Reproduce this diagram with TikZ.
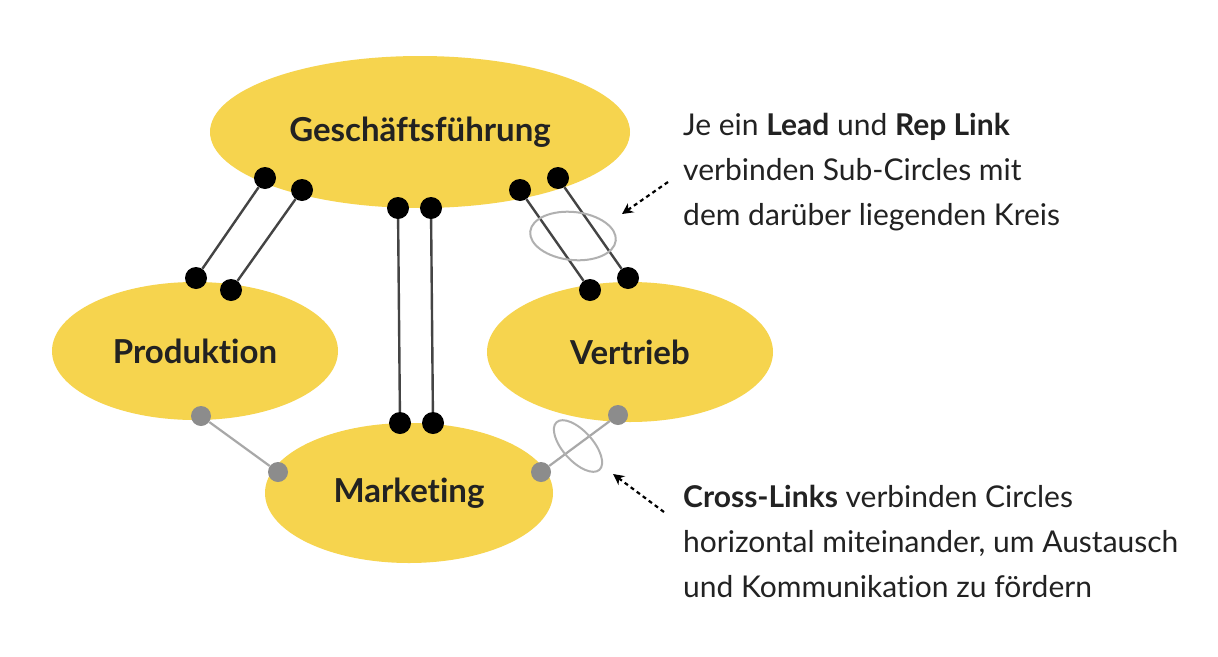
\documentclass[tikz,border=0pt]{standalone}
\usepackage{fontspec}
\setmainfont{Lato}[Ligatures=NoCommon]
\usetikzlibrary{shapes.geometric,arrows.meta}
\definecolor{gelb}{HTML}{F6D44E}
\definecolor{txt}{HTML}{222222}
\definecolor{dotgray}{HTML}{8C8C8C}
\definecolor{linegray}{HTML}{A8A8A8}
\definecolor{ringgray}{HTML}{B0B0B0}
\definecolor{linkblack}{HTML}{444444}
\tikzset{
  circ/.style={ellipse, fill=gelb, inner sep=0pt, text=txt, font=\fontsize{33}{36}\selectfont\bfseries},
  bdot/.style={circle, fill=black, minimum size=22pt, inner sep=0pt},
  gdot/.style={circle, fill=dotgray, minimum size=20pt, inner sep=0pt},
  blink/.style={draw=linkblack, line width=2.4pt},
  glink/.style={draw=linegray, line width=2.2pt},
  ring/.style={ellipse, draw=ringgray, line width=2pt, inner sep=0pt},
  hint/.style={draw=black, line width=2.2pt, dash pattern=on 4pt off 3.5pt, -{Stealth[length=11pt,width=11pt]}},
  note/.style={anchor=base west, align=left, inner sep=0pt, text=txt, font=\fontsize{30}{45}\selectfont}
}
\begin{document}
\begin{tikzpicture}[x=1pt,y=-1pt]
\useasboundingbox[fill=white] (0,0) rectangle (1218,656);
% circles
\node[circ, minimum width=420pt, minimum height=152pt] (gf) at (420,132) {Geschäftsführung};
\node[circ, minimum width=286pt, minimum height=138pt] (prod) at (195,351) {Produktion};
\node[circ, minimum width=286pt, minimum height=140pt] (vert) at (630,352) {Vertrieb};
\node[circ, minimum width=288pt, minimum height=140pt] (mkt) at (409,493) {Marketing};
% dots
\node[bdot] (g1) at (265,178) {};
\node[bdot] (g2) at (302,190) {};
\node[bdot] (p1) at (196,278) {};
\node[bdot] (p2) at (231,290) {};
\node[bdot] (g3) at (398,208) {};
\node[bdot] (g4) at (431,208) {};
\node[bdot] (m1) at (400,423) {};
\node[bdot] (m2) at (433,423) {};
\node[bdot] (g5) at (520,190) {};
\node[bdot] (g6) at (558,178) {};
\node[bdot] (v1) at (590,290) {};
\node[bdot] (v2) at (628,278) {};
\node[gdot] (p3) at (201,416) {};
\node[gdot] (m3) at (278,472) {};
\node[gdot] (m4) at (541,472) {};
\node[gdot] (v3) at (618,415) {};
% links
\draw[blink] (g1) -- (p1);
\draw[blink] (g2) -- (p2);
\draw[blink] (g3) -- (m1);
\draw[blink] (g4) -- (m2);
\draw[blink] (g5) -- (v1);
\draw[blink] (g6) -- (v2);
\draw[glink] (p3) -- (m3);
\draw[glink] (m4) -- (v3);
% rings
\node[ring, minimum width=86pt, minimum height=48pt, rotate=-6] (r1) at (573,236) {};
\node[ring, minimum width=64pt, minimum height=30pt, rotate=-48] (r2) at (578,446) {};
% hints
\coordinate (h1s) at (668,182);
\coordinate (h1e) at (622,214);
\coordinate (h2s) at (664,512);
\coordinate (h2e) at (613,474);
\draw[hint] (h1s) -- (h1e);
\draw[hint] (h2s) -- (h2e);
% notes (anchor at baseline of last line)
\node[note] (n1) at (683,225) {Je ein \textbf{Lead} und \textbf{Rep Link}\\verbinden Sub-Circles mit\\dem darüber liegenden Kreis};
\node[note] (n2) at (683,597) {\textbf{Cross-Links} verbinden Circles\\horizontal miteinander, um Austausch\\und Kommunikation zu fördern};
\end{tikzpicture}
\end{document}
